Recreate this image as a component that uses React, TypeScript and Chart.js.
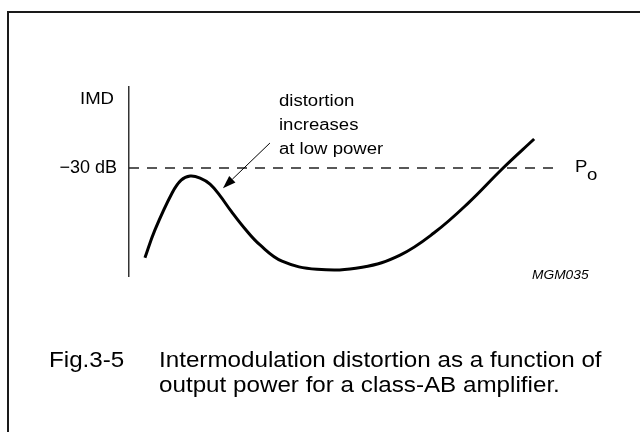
import React, { useEffect, useRef } from "react";
import { Chart, registerables } from "chart.js";

Chart.register(...registerables);

// ---- data (output power in arbitrary units, IMD in dB) ----
const outputPower = [3.7, 6.0, 10.0, 12.1, 14.2, 16.5, 18.8, 21.1, 23.7, 26.9, 30.4, 35.5, 43.6, 54.1, 62.9, 70.8, 78.7, 86.8, 94.0];
const imdDb = [-43.3, -39.2, -33.7, -31.8, -31.2, -31.5, -32.4, -34.1, -36.4, -39.0, -41.4, -43.8, -45.0, -44.7, -42.9, -39.6, -35.2, -30.0, -25.7];
const refLevelDb = -30;
const refLineX = [0, 100];
const yTickValues = [-30];
const yTickLabels = ["\u221230 dB"];
const yAxisTitle = "IMD";
const xAxisLabel = "P";
const xAxisLabelSub = "o";
const noteLines = ["distortion", "increases", "at low power"];
const noteAnchor = [34.8, -20.2];
const arrowFrom = [32.7, -26.3];
const arrowTo = [21.8, -33.0];
const figureCode = "MGM035";
const figureCodeX = 93.5;
const captionNumber = "Fig.3-5";
const captionLines = [
  "Intermodulation distortion as a function of",
  "output power for a class-AB amplifier.",
];

const FONT = "'Liberation Sans', Arial, Helvetica, sans-serif";

function drawText(
  ctx: CanvasRenderingContext2D,
  text: string,
  x: number,
  y: number,
  size: number,
  align: CanvasTextAlign,
  sx: number,
  italic = false
) {
  ctx.save();
  ctx.translate(x, y);
  ctx.scale(sx, 1);
  ctx.font = `${italic ? "italic " : ""}${size}px ${FONT}`;
  ctx.textAlign = align;
  ctx.textBaseline = "middle";
  ctx.fillStyle = "#000";
  ctx.fillText(text, 0, 0);
  ctx.restore();
}

const decorations = {
  id: "decorations",
  beforeDraw(chart: any) {
    const { ctx, width, height } = chart;
    ctx.save();
    ctx.fillStyle = "#fff";
    ctx.fillRect(0, 0, width, height);
    ctx.strokeStyle = "#1a1a1a";
    ctx.lineWidth = 2;
    ctx.beginPath();
    ctx.moveTo(8, height + 5);
    ctx.lineTo(8, 12);
    ctx.lineTo(width + 5, 12);
    ctx.stroke();
    ctx.restore();
  },
  afterDraw(chart: any) {
    const { ctx, chartArea: ca, scales } = chart;
    const x = scales.x;
    const y = scales.y;
    // axis title
    drawText(ctx, yAxisTitle, ca.left - 15, ca.top + 13, 16, "right", 1.16);
    // P_o label
    const refY = y.getPixelForValue(refLevelDb);
    const px = x.getPixelForValue(refLineX[1]) + 15;
    drawText(ctx, xAxisLabel, px, refY, 16, "left", 1.16);
    drawText(ctx, xAxisLabelSub, px + 12, refY + 8, 16, "left", 1.16);
    // note
    const nx = x.getPixelForValue(noteAnchor[0]);
    const ny = y.getPixelForValue(noteAnchor[1]);
    noteLines.forEach((t, i) => drawText(ctx, t, nx, ny + i * 24, 16, "left", 1.16));
    // arrow
    const ax0 = x.getPixelForValue(arrowFrom[0]);
    const ay0 = y.getPixelForValue(arrowFrom[1]);
    const ax1 = x.getPixelForValue(arrowTo[0]);
    const ay1 = y.getPixelForValue(arrowTo[1]);
    const ang = Math.atan2(ay1 - ay0, ax1 - ax0);
    const hl = 13;
    const hw = 4.5;
    const bx = ax1 - hl * Math.cos(ang);
    const by = ay1 - hl * Math.sin(ang);
    ctx.save();
    ctx.strokeStyle = "#000";
    ctx.lineWidth = 1;
    ctx.beginPath();
    ctx.moveTo(ax0, ay0);
    ctx.lineTo(bx, by);
    ctx.stroke();
    ctx.fillStyle = "#000";
    ctx.beginPath();
    ctx.moveTo(ax1, ay1);
    ctx.lineTo(bx + hw * Math.sin(ang), by - hw * Math.cos(ang));
    ctx.lineTo(bx - hw * Math.sin(ang), by + hw * Math.cos(ang));
    ctx.closePath();
    ctx.fill();
    ctx.restore();
    // figure code
    drawText(ctx, figureCode, x.getPixelForValue(figureCodeX), ca.bottom, 12.5, "left", 1.1, true);
    // caption
    drawText(ctx, captionNumber, 49, 361, 22, "left", 1.1);
    captionLines.forEach((t, i) => drawText(ctx, t, 159, 361 + i * 25, 22, "left", 1.1));
  },
};

export default function App() {
  const canvasRef = useRef<HTMLCanvasElement | null>(null);

  useEffect(() => {
    document.body.style.margin = "0";
    const canvas = canvasRef.current;
    if (!canvas) return;
    const chart = new Chart(canvas, {
      type: "line",
      data: {
        datasets: [
          {
            label: "IMD",
            data: outputPower.map((p, i) => ({ x: p, y: imdDb[i] })),
            borderColor: "#000",
            borderWidth: 3,
            pointRadius: 0,
            tension: 0.4,
            fill: false,
          },
          {
            label: "-30 dB",
            data: refLineX.map((p) => ({ x: p, y: refLevelDb })),
            borderColor: "#222",
            borderWidth: 1.5,
            borderDash: [10, 8],
            pointRadius: 0,
            fill: false,
          },
        ],
      },
      options: {
        responsive: false,
        animation: false,
        events: [],
        layout: { padding: { left: 0, top: 87, right: 80, bottom: 156 } },
        plugins: {
          legend: { display: false },
          tooltip: { enabled: false },
          title: { display: false },
        },
        scales: {
          x: { type: "linear", min: 0, max: 100, display: false },
          y: {
            type: "linear",
            min: -46,
            max: -18,
            grid: { display: false, drawTicks: false },
            border: { display: true, color: "#333", width: 1.5 },
            afterFit: (s: any) => {
              s.width = 129;
            },
            afterBuildTicks: (s: any) => {
              s.ticks = yTickValues.map((v) => ({ value: v }));
            },
            ticks: {
              padding: 12,
              color: "#000",
              font: { family: FONT, size: 18 },
              callback: (_v: any, i: number) => yTickLabels[i],
            },
          },
        },
      },
      plugins: [decorations],
    });
    return () => chart.destroy();
  }, []);

  return (
    <div style={{ width: 640, height: 432 }}>
      <canvas ref={canvasRef} width={640} height={432} style={{ display: "block" }} />
    </div>
  );
}
